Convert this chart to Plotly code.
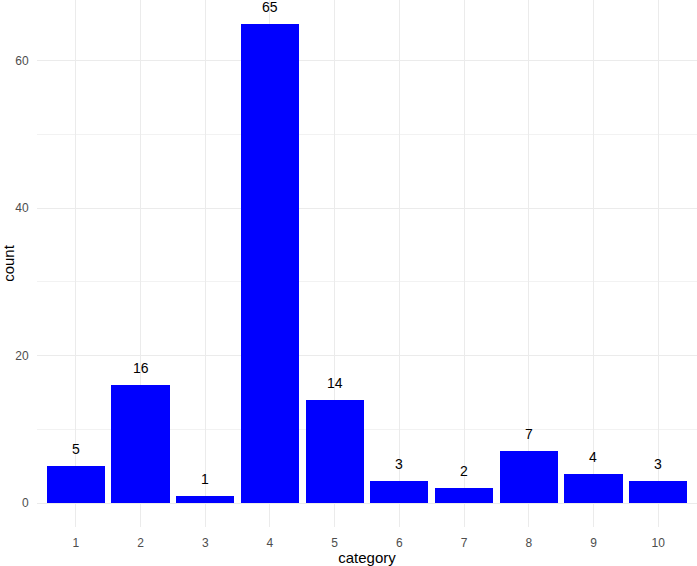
import plotly.graph_objects as go

categories = [1, 2, 3, 4, 5, 6, 7, 8, 9, 10]
counts = [5, 16, 1, 65, 14, 3, 2, 7, 4, 3]
y_ticks = [0, 20, 40, 60]

fig = go.Figure()
fig.add_trace(go.Bar(
    x=categories, y=counts, width=0.9,
    marker=dict(color="#0000FF", line=dict(width=0)),
    hoverinfo="x+y",
))

for c, v in zip(categories, counts):
    fig.add_annotation(
        x=c, y=v, text=str(v), showarrow=False,
        yanchor="bottom", yshift=7,
        font=dict(family="Liberation Sans, Arial, sans-serif", size=14, color="#000000"),
    )

fig.update_layout(
    width=697, height=566,
    margin=dict(l=37, r=0, t=0, b=39, autoexpand=False),
    paper_bgcolor="white", plot_bgcolor="white",
    showlegend=False,
    font=dict(family="Liberation Sans, Arial, sans-serif"),
    bargap=0,
)
fig.update_xaxes(
    range=[0.4, 10.6], tickmode="array", tickvals=categories,
    ticktext=[str(c) for c in categories],
    showgrid=True, gridcolor="#ebebeb", gridwidth=1,
    zeroline=False, showline=False,
    ticks="outside", ticklen=5, tickcolor="rgba(0,0,0,0)", automargin=False,
    tickfont=dict(size=12, color="#4d4d4d"),
    title=dict(text="category", font=dict(size=15, color="#000000"), standoff=2),
)
fig.update_yaxes(
    range=[-3.25, 68.25], tickmode="array", tickvals=y_ticks,
    ticktext=[str(t) for t in y_ticks],
    showgrid=True, gridcolor="#ebebeb", gridwidth=1,
    minor=dict(tickmode="array", tickvals=[10, 30, 50], showgrid=True, gridcolor="#f2f2f2", gridwidth=0.6),
    zeroline=False, showline=False,
    ticks="outside", ticklen=5, tickcolor="rgba(0,0,0,0)", automargin=False,
    tickfont=dict(size=12, color="#4d4d4d"),
    title=dict(text="count", font=dict(size=15, color="#000000"), standoff=2),
)

fig.write_html("out.html", config={"displayModeBar": False},
               post_script="document.body.style.margin='0';")
